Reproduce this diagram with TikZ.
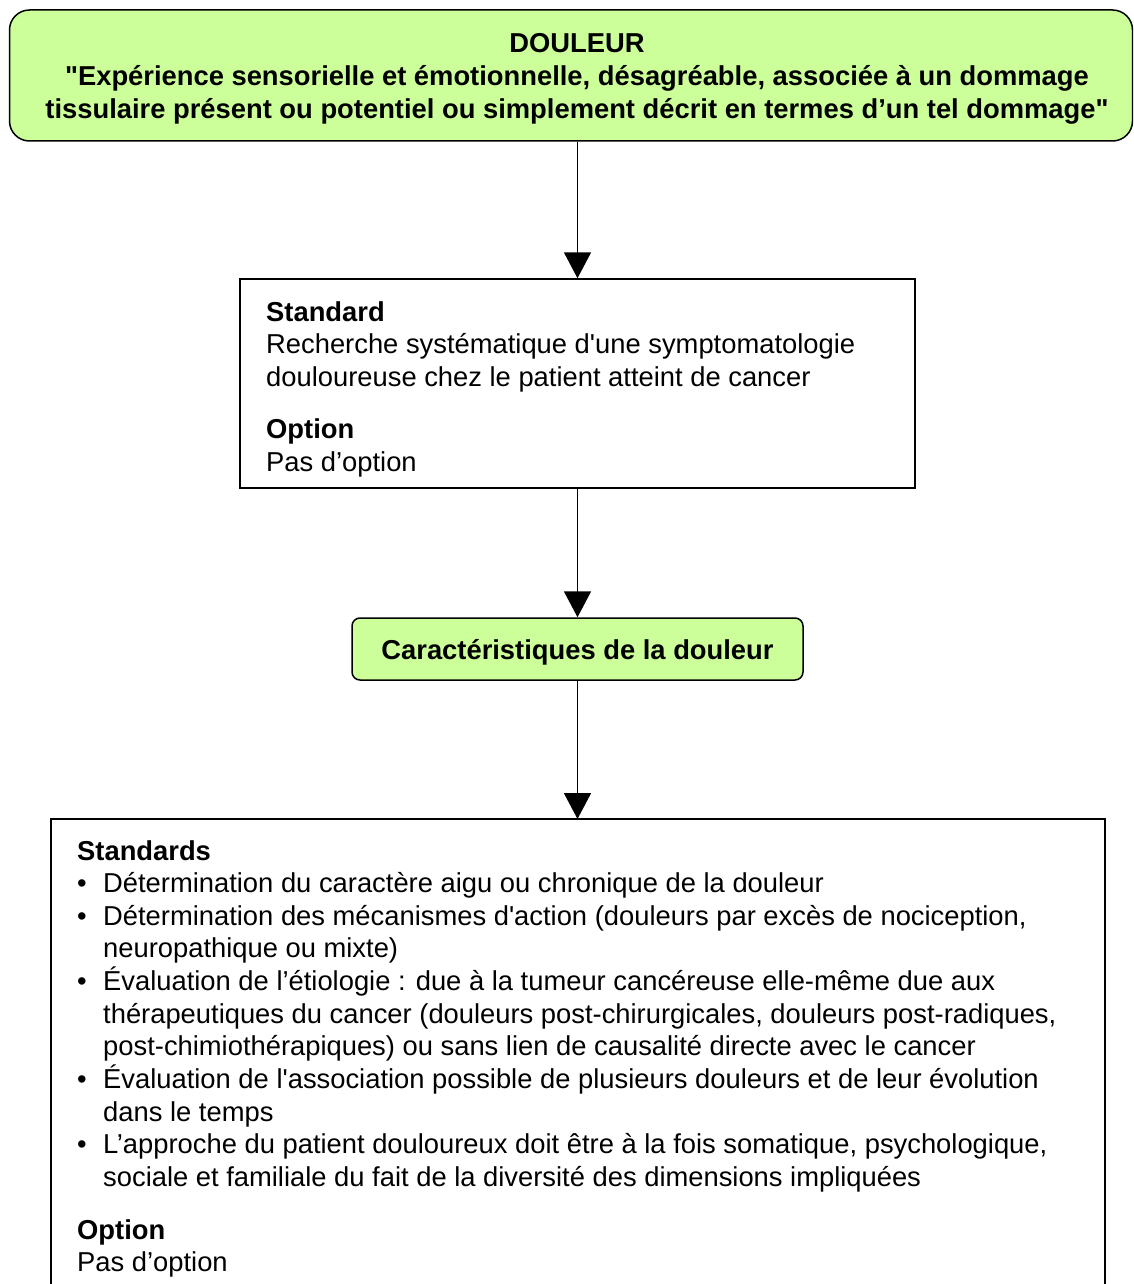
\documentclass[tikz,border=0pt]{standalone}
\usepackage{fontspec}
\setmainfont{Liberation Sans}
\usetikzlibrary{arrows.meta}
\definecolor{lgreen}{RGB}{204,255,153}
\newcommand{\bul}{\makebox[26pt][l]{•}}
\newcommand{\ind}{\hspace*{26pt}}
\newcommand{\sq}{\textquotesingle}
\begin{document}
\begin{tikzpicture}[x=1pt,y=-1pt,
  every node/.style={font=\fontsize{27.35}{32.65}\selectfont},
  box/.style={draw, line width=1.5pt, inner sep=0pt},
  gbox/.style={box, fill=lgreen, rounded corners=#1},
  txt/.style={inner sep=0pt, align=left, anchor=north west},
  arr/.style={-{Triangle[width=27pt,length=26pt]}, line width=1.8pt}]
\useasboundingbox (0,0) rectangle (1133,1284);
\clip (0,0) rectangle (1133,1284);
% top box
\node[gbox=20pt, minimum width=1123pt, minimum height=131pt] (top) at (571,75.5) {};
\node[inner sep=0pt, align=center, font=\fontsize{27.35}{32.65}\selectfont\bfseries] (toptext) at (577,79)
  {DOULEUR\\ \textquotedbl Expérience sensorielle et émotionnelle, désagréable, associée à un dommage\\ tissulaire présent ou potentiel ou simplement décrit en termes d’un tel dommage\textquotedbl};
% standard box
\node[box, minimum width=675pt, minimum height=209pt] (std) at (577.5,383.5) {};
\node[txt] (stdtext) at (266,301)
  {\textbf{Standard}\\
   Recherche systématique d\sq une symptomatologie\\
   douloureuse chez le patient atteint de cancer\\[19.5pt]
   \textbf{Option}\\
   Pas d’option};
% characteristics box
\node[gbox=8pt, minimum width=451pt, minimum height=62pt] (car) at (577.5,649) {};
\node[inner sep=0pt, font=\fontsize{27.35}{32.65}\selectfont\bfseries] (cartext) at (577.5,652)
  {Caractéristiques de la douleur};
% bottom box (open at bottom)
\coordinate (bl) at (51,1300);
\coordinate (br) at (1105,1300);
\coordinate (btop) at (577.5,819);
\draw[line width=1.5pt] (bl) |- (br |- btop) -- (br);
\node[txt] (bottext) at (77,840)
  {\textbf{Standards}\\
   \bul Détermination du caractère aigu ou chronique de la douleur\\
   \bul Détermination des mécanismes d\sq action (douleurs par excès de nociception,\\
   \ind neuropathique ou mixte)\\
   \bul Évaluation de l’étiologie : due à la tumeur cancéreuse elle-même due aux\\
   \ind thérapeutiques du cancer (douleurs post-chirurgicales, douleurs post-radiques,\\
   \ind post-chimiothérapiques) ou sans lien de causalité directe avec le cancer\\
   \bul Évaluation de l\sq association possible de plusieurs douleurs et de leur évolution\\
   \ind dans le temps\\
   \bul L’approche du patient douloureux doit être à la fois somatique, psychologique,\\
   \ind sociale et familiale du fait de la diversité des dimensions impliquées\\[20pt]
   \textbf{Option}\\
   Pas d’option};
% connectors
\draw[arr] (top.south -| std.north) -- (std.north);
\draw[arr] (std.south) -- (car.north);
\draw[arr] (car.south) -- (btop);
\end{tikzpicture}
\end{document}
